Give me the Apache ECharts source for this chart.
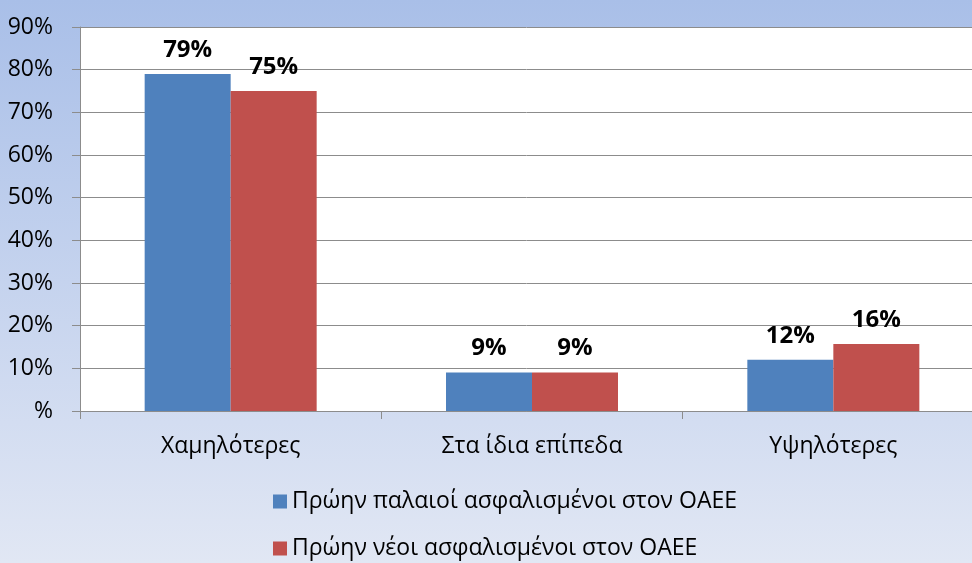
<!DOCTYPE html>
<html>
<head>
<meta charset="utf-8">
<script src="https://cdn.jsdelivr.net/npm/echarts@6/dist/echarts.min.js"></script>
<style>
  html, body { margin: 0; padding: 0; }
  #main { width: 972px; height: 563px; }
</style>
</head>
<body>
<div id="main"></div>
<script>
var categories = ['Χαμηλότερες', 'Στα ίδια επίπεδα', 'Υψηλότερες'];
var seriesNames = ['Πρώην παλαιοί ασφαλισμένοι στον ΟΑΕΕ', 'Πρώην νέοι ασφαλισμένοι στον ΟΑΕΕ'];
var oldInsured = [79, 9, 12];
var newInsured = [75, 9, 15.7];
var yTicks = [0, 10, 20, 30, 40, 50, 60, 70, 80, 90];

var myChart = echarts.init(document.getElementById('main'));

var labelStyle = {
  show: true,
  position: 'top',
  distance: 12,
  fontFamily: 'Open Sans',
  fontWeight: 'bold',
  fontSize: 24,
  color: '#000',
  formatter: function (p) { return Math.round(p.value) + '%'; }
};

var option = {
  backgroundColor: {
    type: 'linear', x: 0, y: 0, x2: 0, y2: 1,
    colorStops: [
      { offset: 0, color: '#a9bfe8' },
      { offset: 1, color: '#e1e7f4' }
    ]
  },
  color: ['#4f81bd', '#c0504d'],
  textStyle: { fontFamily: 'Open Sans' },
  legend: {
    orient: 'vertical',
    left: 273,
    top: 490,
    bottom: 0,
    padding: 0,
    itemWidth: 14,
    itemHeight: 14,
    itemGap: 24,
    icon: 'rect',
    textStyle: { fontSize: 23, color: '#000', fontFamily: 'Open Sans' },
    data: seriesNames
  },
  grid: {
    left: 80,
    top: 27,
    width: 904,
    bottom: 152,
    outerBoundsMode: 'none',
    show: true,
    backgroundColor: '#ffffff',
    borderWidth: 0
  },
  xAxis: {
    type: 'category',
    data: categories,
    axisLine: { lineStyle: { color: '#8c8c8c', width: 1 } },
    axisTick: { show: true, length: 8, lineStyle: { color: '#8c8c8c' } },
    axisLabel: { fontSize: 23, color: '#000', margin: 24 }
  },
  yAxis: {
    type: 'value',
    min: yTicks[0],
    max: yTicks[yTicks.length - 1],
    interval: 10,
    axisLine: { show: true, lineStyle: { color: '#8c8c8c', width: 1 } },
    axisTick: { show: true, length: 8, lineStyle: { color: '#8c8c8c' } },
    splitLine: { lineStyle: { color: '#8c8c8c', width: 1 } },
    axisLabel: {
      fontSize: 23,
      color: '#000',
      margin: 27,
      formatter: function (v) { return v === 0 ? '%' : v + '%'; }
    }
  },
  series: [
    {
      name: seriesNames[0],
      type: 'bar',
      data: oldInsured,
      barWidth: 86,
      barGap: '0%',
      label: labelStyle
    },
    {
      name: seriesNames[1],
      type: 'bar',
      data: newInsured,
      barWidth: 86,
      barGap: '0%',
      label: labelStyle
    }
  ]
};
myChart.setOption(option);
</script>
</body>
</html>
